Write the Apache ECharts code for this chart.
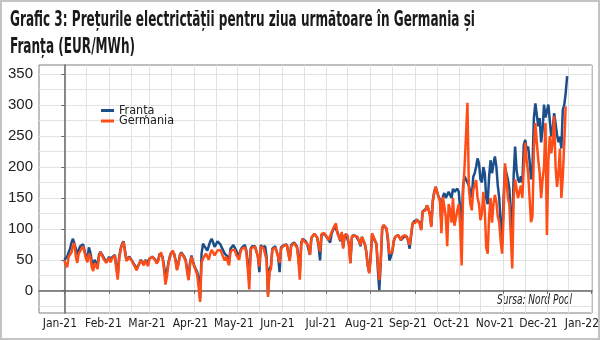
<!DOCTYPE html>
<html><head><meta charset="utf-8">
<script src="https://cdn.jsdelivr.net/npm/echarts@6/dist/echarts.min.js"></script>
<style>html,body{margin:0;padding:0;background:#fff}#c{width:600px;height:340px}</style>
</head><body><div id="c"></div>
<script>
// ---- data (daily day-ahead prices, EUR/MWh, day index 0 = 1 Jan 2021) ----
const titleLine1 = 'Grafic 3: Prețurile electrictății pentru ziua următoare în Germania și';
const titleLine2 = 'Franța (EUR/MWh)';
const sourceText = 'Sursa: Nord Pool';
const seriesNames = ['Franța', 'Germania'];
const monthTickDays = [0,31,59,90,120,151,181,212,243,273,304,334,365];
const monthLabels = ['Jan-21','Feb-21','Mar-21','Apr-21','May-21','Jun-21','Jul-21','Aug-21','Sep-21','Oct-21','Nov-21','Dec-21','Jan-22'];
const gridDays = [0,15,31,46,59,74,90,105,120,135,151,166,181,196,212,227,243,258,273,288,304,319,334,349,365];
const yTicks = [0,50,100,150,200,250,300,350];
const yGrid = [-25,0,25,50,75,100,125,150,175,200,225,250,275,300,325,350];

const france = [
 50,52,55,62,68,78,84,86,68,58,66,72,70,75,74,55,50,70,62,48,42,50,48,40,58,63,60,55,52,46,47,
 55,50,54,56,58,40,25,55,68,76,80,65,50,47,55,53,48,50,40,35,33,45,50,48,42,50,45,42,
 52,53,55,55,50,45,50,60,63,55,40,25,30,45,55,62,65,60,50,35,45,58,62,60,55,50,35,20,45,57,58,
 40,35,30,20,-12,60,76,72,75,65,62,80,84,78,71,75,80,82,75,70,68,60,62,55,45,68,70,74,72,65,
 60,55,66,70,72,74,65,45,20,68,72,70,72,70,55,30,74,70,68,72,55,-5,35,40,68,70,72,70,55,30,70,
 72,74,76,75,62,50,74,76,78,77,72,55,30,78,84,82,80,76,74,58,85,88,92,90,86,72,49,90,93,92,
 90,85,82,78,92,98,104,106,95,88,80,93,70,88,92,90,75,45,85,90,88,88,87,80,72,87,86,75,63,40,30,
 55,90,88,80,76,35,1,45,100,106,103,100,80,49,55,63,80,87,88,90,88,82,85,87,90,88,80,68,71,108,112,
 112,115,117,110,100,128,125,132,138,135,125,105,145,160,168,170,152,147,110,152,158,150,155,160,155,150,165,160,162,165,
 160,130,105,170,185,180,175,170,160,150,184,190,200,214,206,180,175,200,190,150,140,185,211,190,205,217,201,170,150,110,75,
 150,200,190,180,165,120,100,187,233,195,180,175,185,175,236,244,228,233,210,180,200,280,303,300,266,279,240,260,301,280,
 280,301,275,249,260,287,270,252,240,249,230,293,300,320,347
];
const germany = [
 48,45,38,55,58,62,73,77,55,45,60,64,62,72,73,52,46,60,55,38,32,45,42,35,55,62,58,52,50,45,46,
 53,46,52,55,57,35,18,52,66,74,79,63,48,45,54,52,47,50,38,33,32,44,49,47,41,49,44,40,
 52,53,55,54,49,44,48,58,62,53,35,10,22,42,53,60,65,59,48,33,43,56,61,59,53,48,30,17,42,55,56,
 38,33,25,5,-18,45,52,55,60,55,50,60,66,62,57,60,65,63,66,60,58,49,55,48,41,62,66,68,66,58,
 55,50,64,68,70,70,62,35,2,66,70,68,71,68,55,39,72,70,68,70,50,-10,30,35,66,68,70,68,55,45,68,
 70,73,75,74,60,48,72,75,77,76,70,50,18,75,84,80,78,76,72,58,86,88,92,90,86,75,63,92,93,93,
 92,86,82,80,95,95,105,109,93,90,82,95,68,90,93,90,75,44,88,90,89,88,87,80,74,87,87,76,63,42,28,
 50,93,90,82,76,45,17,50,102,106,103,101,85,60,63,63,80,87,88,90,90,82,88,87,90,88,82,74,76,109,110,
 110,115,117,108,98,128,125,130,138,133,122,103,144,158,168,171,152,145,93,152,155,120,72,140,130,110,150,105,103,130,
 140,105,41,160,200,250,304,165,141,130,163,170,179,150,140,114,125,160,130,70,60,120,150,110,140,155,144,120,110,80,60,
 120,206,180,150,140,90,36,150,180,165,150,160,170,150,200,239,210,190,150,111,120,230,271,240,212,190,150,180,200,271,
 90,210,250,222,240,282,200,168,190,230,150,184,240,298
];

// ---- styling / layout ----
const COND = "'Liberation Sans Narrow','DejaVu Sans Condensed','Liberation Sans',sans-serif";
const REG = "'Liberation Sans','Open Sans',sans-serif";
const X_MIN = -17.5, X_MAX = 365.2, Y_MIN = -36, Y_MAX = 365;
const C_FR = '#1c4e8a', C_DE = '#ff4d17';
// month labels are evenly spaced (as in the source chart), ticks sit on the real month starts
const LABEL_START = -3, LABEL_STEP = 30.1;
const labelDays = monthLabels.map((_, i) => LABEL_START + LABEL_STEP * i);

function measure(font, text) {
  const ctx = document.createElement('canvas').getContext('2d');
  ctx.font = font; return ctx.measureText(text).width;
}
const titleFont = "bold 21px " + COND;
const tScale = 465 / measure(titleFont, titleLine1);
const srcFont = "italic 14px " + COND;
const sScale = 75 / measure(srcFont, sourceText);

const chart = echarts.init(document.getElementById('c'), null, {renderer: 'canvas'});
chart.setOption({
  animation: false,
  backgroundColor: '#fff',
  grid: {left: 39, right: 8, top: 65, bottom: 27, show: true, borderColor: '#7f7f7f', borderWidth: 1,
         containLabel: false, outerBoundsMode: 'none'},
  legend: {
    orient: 'vertical', left: 101, top: 104, padding: 0, itemWidth: 13, itemHeight: 3, itemGap: -2.5, icon: 'rect',
    data: seriesNames,
    textStyle: {fontFamily: COND, fontSize: 12.5, color: '#222'}
  },
  xAxis: [{
    type: 'value', min: X_MIN, max: X_MAX, position: 'bottom',
    axisLine: {show: true, lineStyle: {color: '#666', width: 1.5}},
    axisTick: {show: true, customValues: monthTickDays, length: 3, lineStyle: {color: '#666'}},
    axisLabel: {show: false},
    splitLine: {show: false}
  }, {
    type: 'value', min: X_MIN, max: X_MAX, position: 'bottom',
    axisLine: {show: false}, axisTick: {show: false, customValues: gridDays},
    axisLabel: {show: false},
    splitLine: {show: true, lineStyle: {color: '#e2e2e2', width: 1}}
  }, {
    type: 'value', min: X_MIN, max: X_MAX, position: 'bottom',
    axisLine: {show: false}, axisTick: {show: false},
    axisLabel: {customValues: labelDays, margin: 5, color: '#222', fontFamily: COND, fontSize: 12,
      hideOverlap: false,
      formatter: v => monthLabels[Math.round((v - LABEL_START) / LABEL_STEP)] || ''},
    splitLine: {show: false}
  }],
  yAxis: [{
    type: 'value', min: Y_MIN, max: Y_MAX,
    axisLine: {show: true, lineStyle: {color: '#666', width: 1.5}},
    axisTick: {show: true, customValues: yTicks, length: 3, lineStyle: {color: '#666'}},
    axisLabel: {customValues: yTicks, margin: 6, color: '#222', fontFamily: REG, fontSize: 15},
    splitLine: {show: false}
  }, {
    type: 'value', min: Y_MIN, max: Y_MAX, position: 'left',
    axisLine: {show: false}, axisTick: {show: false, customValues: yGrid},
    axisLabel: {show: false},
    splitLine: {show: true, lineStyle: {color: '#e2e2e2', width: 1}}
  }],
  series: [{
    name: seriesNames[0], type: 'line', xAxisIndex: 0, yAxisIndex: 0,
    data: france.map((v, i) => [i, v]), symbol: 'none', showSymbol: false,
    lineStyle: {color: C_FR, width: 2.5}, itemStyle: {color: C_FR}
  }, {
    name: seriesNames[1], type: 'line', xAxisIndex: 0, yAxisIndex: 0,
    data: germany.map((v, i) => [i, v]), symbol: 'none', showSymbol: false,
    lineStyle: {color: C_DE, width: 2.5}, itemStyle: {color: C_DE}
  }],
  graphic: [
    {type: 'rect', silent: true, shape: {x: 1, y: 1, width: 598, height: 338},
     style: {fill: 'none', stroke: '#c3c3c3', lineWidth: 2}},
    {type: 'text', x: 10, y: 10, scaleX: tScale, silent: true,
     style: {text: titleLine1, font: titleFont, fill: '#1a1a1a', verticalAlign: 'top', align: 'left'}},
    {type: 'text', x: 10, y: 37.5, scaleX: tScale, silent: true,
     style: {text: titleLine2, font: titleFont, fill: '#1a1a1a', verticalAlign: 'top', align: 'left'}},
    {type: 'text', x: 572, y: 300.5, scaleX: sScale, silent: true,
     style: {text: sourceText, font: srcFont, fill: '#222', verticalAlign: 'middle', align: 'right'}}
  ]
});
</script>
</body></html>
